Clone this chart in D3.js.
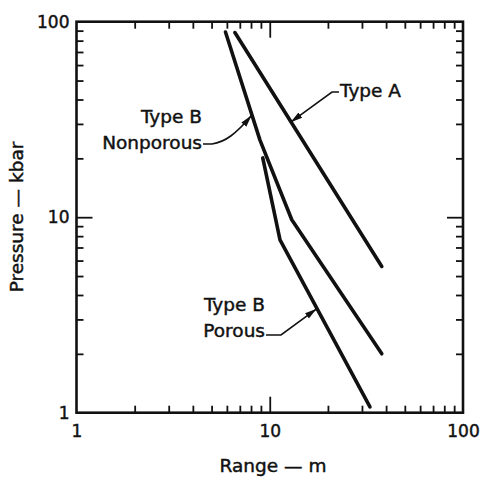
<!DOCTYPE html>
<html>
<head>
<meta charset="utf-8">
<script src="https://cdn.jsdelivr.net/npm/d3@7/dist/d3.min.js"></script>
<style>
  html, body { margin: 0; padding: 0; background: #fff; }
  svg { display: block; }
  text { font-family: "DejaVu Sans", sans-serif; fill: #111; stroke: #111; stroke-width: 0.45px; }
</style>
</head>
<body>
<svg id="chart" width="483" height="479"></svg>
<script>
// Peak pressure vs. range for the three rock types (log-log)
const typeARange = [6.6, 38];
const typeAPressure = [88, 5.6];

const nonporousRange = [5.9, 8.9, 13.0, 38];
const nonporousPressure = [88.6, 24.8, 9.7, 2.0];

const porousRange = [9.2, 11.3, 33];
const porousPressure = [20.1, 7.65, 1.07];

const tickLabels = [1, 10, 100];
const majorTicks = [10];
const minorTicks = [2, 3, 4, 5, 6, 7, 8, 9, 20, 30, 40, 50, 60, 70, 80, 90];

const svg = d3.select("#chart");
const plot = { left: 76.5, right: 463, top: 21.7, bottom: 412.7 };

const x = d3.scaleLog().domain([1, 100]).range([plot.left, plot.right]);
const y = d3.scaleLog().domain([1, 100]).range([plot.bottom, plot.top]);

// Inward ticks on all four sides
function tickAxis(axisFn, scale, values, size, transform) {
  const g = svg.append("g")
    .attr("transform", transform)
    .call(axisFn(scale).tickValues(values).tickSize(-size).tickFormat(""));
  g.select(".domain").remove();
  g.selectAll(".tick line").attr("stroke", "#111").attr("stroke-width", 1.8);
  return g;
}
const sides = [
  [d3.axisBottom, x, `translate(0,${plot.bottom})`],
  [d3.axisTop, x, `translate(0,${plot.top})`],
  [d3.axisLeft, y, `translate(${plot.left},0)`],
  [d3.axisRight, y, `translate(${plot.right},0)`]
];
sides.forEach(([fn, sc, tr]) => {
  tickAxis(fn, sc, minorTicks, 7, tr);
  tickAxis(fn, sc, majorTicks, 16, tr);
});

// Tick labels
const fmt = d => String(d);
const xLab = svg.append("g")
  .attr("transform", `translate(0,${plot.bottom})`)
  .call(d3.axisBottom(x).tickValues(tickLabels).tickSize(0).tickPadding(12).tickFormat(fmt));
xLab.select(".domain").remove();
xLab.selectAll("text").attr("font-size", 17).attr("font-family", "DejaVu Sans").attr("fill", "#111");

const yLab = svg.append("g")
  .attr("transform", `translate(${plot.left},0)`)
  .call(d3.axisLeft(y).tickValues(tickLabels).tickSize(0).tickPadding(7).tickFormat(fmt));
yLab.select(".domain").remove();
yLab.selectAll("text").attr("font-size", 17).attr("font-family", "DejaVu Sans").attr("fill", "#111");

// Frame
svg.append("rect")
  .attr("x", plot.left).attr("y", plot.top)
  .attr("width", plot.right - plot.left).attr("height", plot.bottom - plot.top)
  .attr("fill", "none").attr("stroke", "#111").attr("stroke-width", 2.6);

// Curves
const line = d3.line().x(d => x(d[0])).y(d => y(d[1]));
const series = [
  d3.zip(typeARange, typeAPressure),
  d3.zip(nonporousRange, nonporousPressure),
  d3.zip(porousRange, porousPressure)
];
svg.append("g").selectAll("path").data(series).join("path")
  .attr("d", line)
  .attr("fill", "none").attr("stroke", "#111")
  .attr("stroke-width", 3.6).attr("stroke-linecap", "round").attr("stroke-linejoin", "round");

// Point on a series at a given pressure (log-linear interpolation)
function pointAtPressure(pts, p) {
  for (let i = 0; i < pts.length - 1; i++) {
    const [x0, y0] = pts[i], [x1, y1] = pts[i + 1];
    if ((p - y0) * (p - y1) <= 0) {
      const t = (Math.log(p) - Math.log(y0)) / (Math.log(y1) - Math.log(y0));
      const r = Math.exp(Math.log(x0) + t * (Math.log(x1) - Math.log(x0)));
      return [x(r), y(p)];
    }
  }
  return [x(pts[0][0]), y(pts[0][1])];
}

// Arrowhead marker
svg.append("defs").append("marker")
  .attr("id", "arrow").attr("viewBox", "0 0 12 8")
  .attr("refX", 11.5).attr("refY", 4)
  .attr("markerWidth", 12).attr("markerHeight", 8)
  .attr("markerUnits", "userSpaceOnUse").attr("orient", "auto")
  .append("path").attr("d", "M0,0.8 L12,4 L0,7.2 Z").attr("fill", "#111");

// Labels with leaders
const fs = 18.5;
function label(lines, xRight, baseline, anchor) {
  const t = svg.append("text").attr("font-size", fs).attr("text-anchor", anchor);
  lines.forEach((s, i) => {
    t.append("tspan").attr("x", xRight).attr("y", baseline + i * 26).text(s);
  });
}

label(["Type A"], 340, 97, "start");
label(["Type B", "Nonporous"], 202, 123, "end");
label(["Type B", "Porous"], 265, 311, "end");

const leader = (d) => svg.append("path").attr("d", d)
  .attr("fill", "none").attr("stroke", "#111").attr("stroke-width", 1.6)
  .attr("marker-end", "url(#arrow)");

const tipA = pointAtPressure(series[0], 30.7);
leader(`M339,92 L332,92 L${tipA[0]},${tipA[1]}`);

const tipN = pointAtPressure(series[1], 33);
leader(`M203,144 L212,144 C225,142 236,134 ${tipN[0] - 1},${tipN[1]}`);

const tipP = pointAtPressure(series[2], 3.39);
leader(`M266,335 L281,335 L${tipP[0] - 1},${tipP[1]}`);

// Axis titles
svg.append("text")
  .attr("font-size", fs).attr("text-anchor", "middle")
  .attr("transform", `translate(23,217) rotate(-90)`)
  .text("Pressure — kbar");

svg.append("text")
  .attr("font-size", fs).attr("text-anchor", "middle")
  .attr("x", 273).attr("y", 472)
  .text("Range — m");
</script>
</body>
</html>
